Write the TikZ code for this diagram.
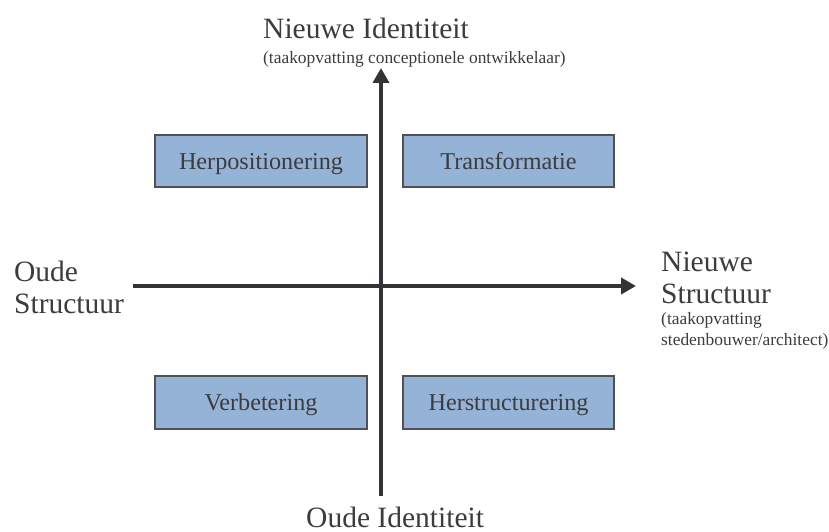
\documentclass[tikz,border=0pt]{standalone}
\usepackage{fontspec}
\setmainfont{Liberation Serif}
\usetikzlibrary{arrows.meta}
\definecolor{txtgray}{HTML}{3C3C3C}
\definecolor{axisgray}{HTML}{333338}
\definecolor{boxfill}{HTML}{95B3D7}
\definecolor{boxline}{HTML}{505055}
\tikzset{
  bigtext/.style={inner sep=0pt, text=txtgray, font=\fontsize{29.5}{32}\selectfont},
  smalltext/.style={inner sep=0pt, text=txtgray, font=\fontsize{17.4}{21}\selectfont},
  quadbox/.style={draw=boxline, line width=1.5pt, fill=boxfill, inner sep=0pt,
    text=txtgray, font=\fontsize{24.2}{26}\selectfont, text height=16pt, text depth=0pt},
  axis/.style={draw=axisgray, line width=4pt, -{Triangle[width=16pt,length=15pt]}}
}
\begin{document}
\begin{tikzpicture}[x=1pt,y=-1pt]
\useasboundingbox (0,0) rectangle (829,532);
% axes end points
\coordinate (vbot) at (381,496);
\coordinate (vtop) at (381,68);
\coordinate (hleft) at (133,286);
\coordinate (hright) at (636,286);
\draw[axis] (vbot) -- (vtop);
\draw[axis] (hleft) -- (hright);
% quadrant boxes
\node[quadbox, minimum width=212pt, minimum height=52pt] (herpos) at (261,161) {Herpositionering};
\node[quadbox, minimum width=211pt, minimum height=52pt] (transf) at (508.5,161) {Transformatie};
\node[quadbox, minimum width=212pt, minimum height=53pt] (verbet) at (261,402.5) {Verbetering};
\node[quadbox, minimum width=211pt, minimum height=53pt] (herstr) at (508.5,402.5) {Herstructurering};
% labels
\node[bigtext, anchor=base west] (ni) at (263,39) {Nieuwe Identiteit};
\node[smalltext, anchor=base west] (nisub) at (263,63.5) {(taakopvatting conceptionele ontwikkelaar)};
\node[bigtext, anchor=base west] (os1) at (14,281) {Oude};
\node[bigtext, anchor=base west] (os2) at (14,313) {Structuur};
\node[bigtext, anchor=base west] (ns1) at (661,271) {Nieuwe};
\node[bigtext, anchor=base west] (ns2) at (661,303) {Structuur};
\node[smalltext, anchor=base west] (ns3) at (661,324) {(taakopvatting};
\node[smalltext, anchor=base west] (ns4) at (661,345) {stedenbouwer/architect)};
\node[bigtext, anchor=base west] (oi) at (306,527) {Oude Identiteit};
\end{tikzpicture}
\end{document}
